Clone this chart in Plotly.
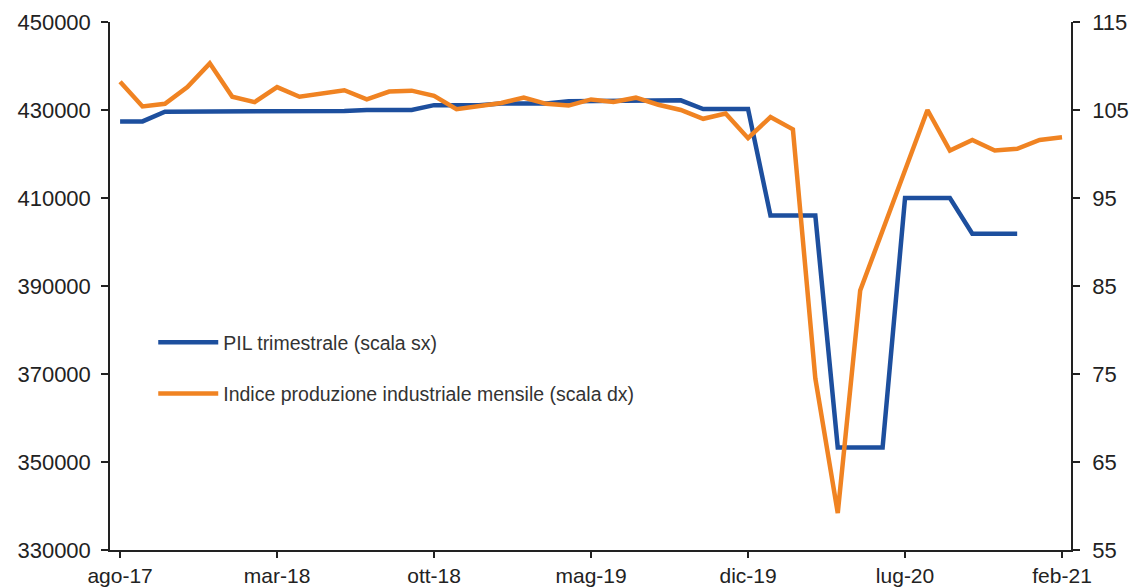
import plotly.graph_objects as go

months = ["ago-17", "set-17", "ott-17", "nov-17", "dic-17",
          "gen-18", "feb-18", "mar-18", "apr-18", "mag-18", "giu-18", "lug-18", "ago-18", "set-18", "ott-18", "nov-18", "dic-18",
          "gen-19", "feb-19", "mar-19", "apr-19", "mag-19", "giu-19", "lug-19", "ago-19", "set-19", "ott-19", "nov-19", "dic-19",
          "gen-20", "feb-20", "mar-20", "apr-20", "mag-20", "giu-20", "lug-20", "ago-20", "set-20", "ott-20", "nov-20", "dic-20",
          "gen-21", "feb-21"]

# PIL trimestrale (valori ripetuti per ogni mese del trimestre), fino a dic-20
pil = [427400, 427400,
       429600, 429600, 429600,
       429700, 429700, 429700,
       429800, 429800, 429800,
       430000, 430000, 430000,
       431100, 431100, 431100,
       431500, 431500, 431500,
       432000, 432000, 432000,
       432200, 432200, 432200,
       430200, 430200, 430200,
       406000, 406000, 406000,
       353300, 353300, 353300,
       410000, 410000, 410000,
       401900, 401900, 401900]

# Indice produzione industriale mensile
ipi = [108.2, 105.4, 105.7, 107.6, 110.3,
       106.5, 105.9, 107.6, 106.5, 106.9, 107.25, 106.2, 107.1, 107.2, 106.6, 105.1, 105.4,
       105.8, 106.4, 105.7, 105.5, 106.2, 105.9, 106.4, 105.6, 105.0, 104.0, 104.6, 101.8,
       104.2, 102.8, 74.5, 59.2, 84.5, 91.3, 98.3, 105.0, 100.4, 101.6, 100.4, 100.6,
       101.6, 101.9]

tick_labels = ["ago-17", "mar-18", "ott-18", "mag-19", "dic-19", "lug-20", "feb-21"]
left_ticks = [330000, 350000, 370000, 390000, 410000, 430000, 450000]
right_ticks = [55, 65, 75, 85, 95, 105, 115]

BLUE = "#1d4f9e"
ORANGE = "#f08322"
AXIS = "#222222"

fig = go.Figure()
fig.add_trace(go.Scatter(
    x=months[:len(pil)], y=pil, mode="lines", name="PIL trimestrale (scala sx)",
    line=dict(color=BLUE, width=4.5), legendgroup="a"))
fig.add_trace(go.Scatter(
    x=months, y=ipi, mode="lines", name="Indice produzione industriale mensile (scala dx)",
    line=dict(color=ORANGE, width=4.5), yaxis="y2", legendgroup="b"))

fig.update_layout(
    width=1133, height=587,
    margin=dict(l=110, r=62, t=22, b=37, autoexpand=False),
    paper_bgcolor="white", plot_bgcolor="white",
    font=dict(family="Liberation Sans, Arial, sans-serif", color=AXIS),
    showlegend=True,
    legend=dict(x=0.045, y=0.43, xanchor="left", yanchor="top",
                bgcolor="rgba(0,0,0,0)", traceorder="grouped", tracegroupgap=23,
                itemwidth=60,
                font=dict(size=19.5, color="#333333", family="Liberation Sans Narrow, Liberation Sans, Arial, sans-serif")),
    xaxis=dict(type="category", categoryorder="array", categoryarray=months,
               range=[-0.45, 42.4], tickmode="array", tickvals=tick_labels, ticktext=tick_labels,
               showgrid=False, showline=True, linecolor=AXIS, linewidth=1.5,
               ticks="outside", ticklen=6, tickcolor=AXIS, tickwidth=1.5,
               tickfont=dict(size=21), zeroline=False, automargin=False),
    yaxis=dict(range=[330000, 450000], tickmode="array", tickvals=left_ticks,
               ticktext=[str(v) for v in left_ticks],
               showgrid=False, showline=True, linecolor=AXIS, linewidth=1.5,
               ticks="outside", ticklen=7, tickcolor=AXIS, tickwidth=1.5,
               tickfont=dict(size=22), ticklabelstandoff=6, zeroline=False, automargin=False),
    yaxis2=dict(range=[55, 115], overlaying="y", side="right", tickmode="array",
                tickvals=right_ticks, ticktext=[str(v) for v in right_ticks],
                showgrid=False, showline=True, linecolor=AXIS, linewidth=1.5,
                ticks="outside", ticklen=7, tickcolor=AXIS, tickwidth=1.5,
                tickfont=dict(size=22), ticklabelstandoff=8, zeroline=False, automargin=False),
)

fig.write_html("out.html", config={"displayModeBar": False},
               post_script="document.body.style.margin='0';")
